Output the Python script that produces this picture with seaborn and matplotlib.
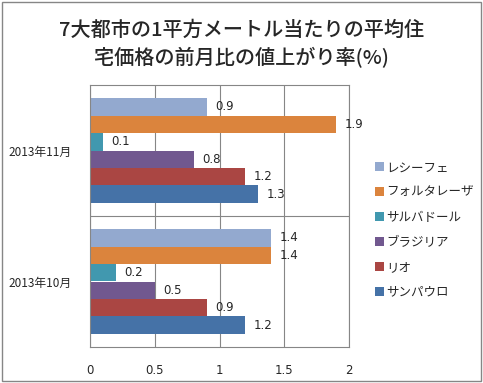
import matplotlib
matplotlib.use("Agg")
import matplotlib.pyplot as plt
import seaborn as sns
import pandas as pd
from matplotlib.patches import Rectangle

sns.set_theme(style="white")
plt.rcParams['font.family'] = ['Noto Sans CJK JP', 'DejaVu Sans']

months = ["2013年11月", "2013年10月"]
cities = ["レシーフェ", "フォルタレーザ", "サルバドール", "ブラジリア", "リオ", "サンパウロ"]
vals_nov = [0.9, 1.9, 0.1, 0.8, 1.2, 1.3]
vals_oct = [1.4, 1.4, 0.2, 0.5, 0.9, 1.2]
colors = ["#93A9CF", "#DB843D", "#4198AF", "#71588F", "#AA4643", "#4572A7"]
xticks = [0, 0.5, 1, 1.5, 2]
title = "7大都市の1平方メートル当たりの平均住\n宅価格の前月比の値上がり率(%)"

rows = []
for m, vals in zip(months, [vals_nov, vals_oct]):
    for c, v in zip(cities, vals):
        rows.append({"month": m, "city": c, "value": v})
df = pd.DataFrame(rows)

fig = plt.figure(figsize=(4.83, 3.83), dpi=100)
ax = fig.add_axes([90/483, 1-347/383, (349-90)/483, (347-85)/383])
sns.barplot(data=df, y="month", x="value", hue="city", order=months,
            hue_order=cities, palette=colors, orient="h", width=0.8,
            saturation=1, linewidth=0, ax=ax, legend=True)

for cont in ax.containers:
    ax.bar_label(cont, fmt="%.1f", padding=6, fontsize=8.5, family=['DejaVu Sans'])

ax.set_xlim(0, 2)
ax.set_xticks(xticks)
ax.set_xticklabels([f"{t:g}" for t in xticks], fontsize=8.5, family=['DejaVu Sans'])
ax.tick_params(axis='x', pad=12, length=0)
ax.tick_params(axis='y', pad=13, length=0, labelsize=8.5)
ax.set_xlabel("")
ax.set_ylabel("")
ax.xaxis.grid(True, color="#868686", linewidth=0.8)
ax.set_axisbelow(True)
ax.axhline(0.5, color="#868686", linewidth=0.8)
for s in ax.spines.values():
    s.set_color("#868686")
    s.set_linewidth(0.8)

handles, labels = ax.get_legend_handles_labels()
ax.legend_.remove()
fig.legend(handles, labels, loc="upper left", bbox_to_anchor=(364/483, 1-150/383),
           frameon=False, fontsize=9, handlelength=0.7, handleheight=0.7,
           handletextpad=0.2, labelspacing=0.95)

fig.text(0.5, 1-44/383, title, ha="center", va="center", fontsize=14.5,
         fontweight="medium", linespacing=1.4)

fig.patches.append(Rectangle((0.004, 0.004), 0.992, 0.992, transform=fig.transFigure,
                             fill=False, edgecolor="#868686", linewidth=1))

fig.savefig("out.png", dpi=100)
